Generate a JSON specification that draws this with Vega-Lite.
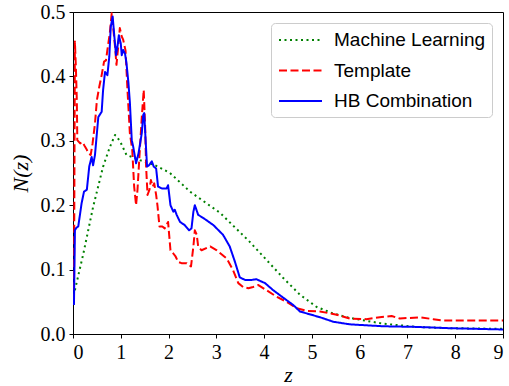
{
  "$schema": "https://vega.github.io/schema/vega-lite/v6.json",
  "width": 430,
  "height": 322,
  "autosize": {"type": "none"},
  "padding": {"left": 73, "top": 12, "right": 6, "bottom": 52},
  "background": "white",
  "config": {
    "view": {"stroke": "black", "strokeWidth": 1},
    "axis": {
      "grid": false,
      "domainColor": "black",
      "tickColor": "black",
      "tickSize": 4,
      "labelFont": "Liberation Serif",
      "labelFontSize": 20,
      "labelColor": "black",
      "labelPadding": 4,
      "titleFont": "Liberation Serif",
      "titleFontStyle": "italic",
      "titleFontWeight": "normal",
      "titleFontSize": 22,
      "titleColor": "black"
    },
    "legend": {
      "title": null,
      "orient": "top-right",
      "offset": 11,
      "symbolType": "M-2.15,0H2.15",
      "symbolSize": 400,
      "symbolOffset": 12.5,
      "symbolStrokeWidth": 2,
      "labelFont": "Liberation Sans",
      "labelFontSize": 19,
      "labelColor": "#000",
      "labelOffset": 22.5,
      "rowPadding": 9.5,
      "padding": 6,
      "strokeColor": "#cccccc",
      "fillColor": "rgba(255,255,255,0.8)",
      "cornerRadius": 4
    }
  },
  "data": {
    "values": [
      {"s": "Machine Learning", "z": 0.04, "n": 0.068},
      {"s": "Machine Learning", "z": 0.22, "n": 0.126},
      {"s": "Machine Learning", "z": 0.42, "n": 0.197},
      {"s": "Machine Learning", "z": 0.63, "n": 0.26},
      {"s": "Machine Learning", "z": 0.77, "n": 0.29},
      {"s": "Machine Learning", "z": 0.88, "n": 0.309},
      {"s": "Machine Learning", "z": 0.98, "n": 0.3},
      {"s": "Machine Learning", "z": 1.12, "n": 0.278},
      {"s": "Machine Learning", "z": 1.23, "n": 0.275},
      {"s": "Machine Learning", "z": 1.4, "n": 0.27},
      {"s": "Machine Learning", "z": 1.72, "n": 0.262},
      {"s": "Machine Learning", "z": 2.03, "n": 0.25},
      {"s": "Machine Learning", "z": 2.45, "n": 0.221},
      {"s": "Machine Learning", "z": 3.08, "n": 0.188},
      {"s": "Machine Learning", "z": 3.7, "n": 0.143},
      {"s": "Machine Learning", "z": 4.05, "n": 0.115},
      {"s": "Machine Learning", "z": 4.4, "n": 0.087},
      {"s": "Machine Learning", "z": 4.75, "n": 0.061},
      {"s": "Machine Learning", "z": 5.1, "n": 0.042},
      {"s": "Machine Learning", "z": 5.44, "n": 0.032},
      {"s": "Machine Learning", "z": 5.79, "n": 0.025},
      {"s": "Machine Learning", "z": 6.49, "n": 0.016},
      {"s": "Machine Learning", "z": 7.19, "n": 0.011},
      {"s": "Machine Learning", "z": 7.89, "n": 0.009},
      {"s": "Machine Learning", "z": 9.0, "n": 0.008},

      {"s": "Template", "z": 0.01, "n": 0.05},
      {"s": "Template", "z": 0.02, "n": 0.053},
      {"s": "Template", "z": 0.04, "n": 0.454},
      {"s": "Template", "z": 0.06, "n": 0.415},
      {"s": "Template", "z": 0.08, "n": 0.363},
      {"s": "Template", "z": 0.09, "n": 0.301},
      {"s": "Template", "z": 0.15, "n": 0.296},
      {"s": "Template", "z": 0.2, "n": 0.298},
      {"s": "Template", "z": 0.25, "n": 0.291},
      {"s": "Template", "z": 0.29, "n": 0.286},
      {"s": "Template", "z": 0.32, "n": 0.281},
      {"s": "Template", "z": 0.37, "n": 0.278},
      {"s": "Template", "z": 0.41, "n": 0.296},
      {"s": "Template", "z": 0.46, "n": 0.327},
      {"s": "Template", "z": 0.5, "n": 0.363},
      {"s": "Template", "z": 0.55, "n": 0.384},
      {"s": "Template", "z": 0.6, "n": 0.402},
      {"s": "Template", "z": 0.65, "n": 0.423},
      {"s": "Template", "z": 0.69, "n": 0.425},
      {"s": "Template", "z": 0.72, "n": 0.441},
      {"s": "Template", "z": 0.77, "n": 0.467},
      {"s": "Template", "z": 0.81, "n": 0.498},
      {"s": "Template", "z": 0.84, "n": 0.477},
      {"s": "Template", "z": 0.88, "n": 0.446},
      {"s": "Template", "z": 0.91, "n": 0.418},
      {"s": "Template", "z": 0.95, "n": 0.449},
      {"s": "Template", "z": 0.98, "n": 0.475},
      {"s": "Template", "z": 1.02, "n": 0.462},
      {"s": "Template", "z": 1.05, "n": 0.457},
      {"s": "Template", "z": 1.1, "n": 0.44},
      {"s": "Template", "z": 1.14, "n": 0.379},
      {"s": "Template", "z": 1.19, "n": 0.312},
      {"s": "Template", "z": 1.24, "n": 0.286},
      {"s": "Template", "z": 1.28, "n": 0.229},
      {"s": "Template", "z": 1.32, "n": 0.2},
      {"s": "Template", "z": 1.35, "n": 0.224},
      {"s": "Template", "z": 1.39, "n": 0.275},
      {"s": "Template", "z": 1.44, "n": 0.337},
      {"s": "Template", "z": 1.48, "n": 0.379},
      {"s": "Template", "z": 1.51, "n": 0.322},
      {"s": "Template", "z": 1.53, "n": 0.26},
      {"s": "Template", "z": 1.56, "n": 0.216},
      {"s": "Template", "z": 1.6, "n": 0.224},
      {"s": "Template", "z": 1.63, "n": 0.239},
      {"s": "Template", "z": 1.67, "n": 0.229},
      {"s": "Template", "z": 1.7, "n": 0.234},
      {"s": "Template", "z": 1.74, "n": 0.216},
      {"s": "Template", "z": 1.77, "n": 0.198},
      {"s": "Template", "z": 1.81, "n": 0.167},
      {"s": "Template", "z": 1.87, "n": 0.167},
      {"s": "Template", "z": 1.92, "n": 0.164},
      {"s": "Template", "z": 1.99, "n": 0.174},
      {"s": "Template", "z": 2.04, "n": 0.13},
      {"s": "Template", "z": 2.1, "n": 0.125},
      {"s": "Template", "z": 2.15, "n": 0.12},
      {"s": "Template", "z": 2.2, "n": 0.112},
      {"s": "Template", "z": 2.27, "n": 0.11},
      {"s": "Template", "z": 2.38, "n": 0.11},
      {"s": "Template", "z": 2.47, "n": 0.105},
      {"s": "Template", "z": 2.52, "n": 0.136},
      {"s": "Template", "z": 2.55, "n": 0.161},
      {"s": "Template", "z": 2.59, "n": 0.154},
      {"s": "Template", "z": 2.62, "n": 0.136},
      {"s": "Template", "z": 2.69, "n": 0.13},
      {"s": "Template", "z": 2.87, "n": 0.136},
      {"s": "Template", "z": 3.01, "n": 0.13},
      {"s": "Template", "z": 3.22, "n": 0.117},
      {"s": "Template", "z": 3.35, "n": 0.099},
      {"s": "Template", "z": 3.46, "n": 0.079},
      {"s": "Template", "z": 3.56, "n": 0.073},
      {"s": "Template", "z": 3.67, "n": 0.071},
      {"s": "Template", "z": 3.77, "n": 0.073},
      {"s": "Template", "z": 3.88, "n": 0.076},
      {"s": "Template", "z": 4.05, "n": 0.068},
      {"s": "Template", "z": 4.26, "n": 0.058},
      {"s": "Template", "z": 4.47, "n": 0.05},
      {"s": "Template", "z": 4.68, "n": 0.04},
      {"s": "Template", "z": 4.89, "n": 0.036},
      {"s": "Template", "z": 5.17, "n": 0.035},
      {"s": "Template", "z": 5.52, "n": 0.03},
      {"s": "Template", "z": 5.79, "n": 0.024},
      {"s": "Template", "z": 6.14, "n": 0.023},
      {"s": "Template", "z": 6.42, "n": 0.026},
      {"s": "Template", "z": 6.67, "n": 0.028},
      {"s": "Template", "z": 6.84, "n": 0.024},
      {"s": "Template", "z": 7.26, "n": 0.026},
      {"s": "Template", "z": 7.54, "n": 0.023},
      {"s": "Template", "z": 7.75, "n": 0.021},
      {"s": "Template", "z": 8.24, "n": 0.021},
      {"s": "Template", "z": 9.0, "n": 0.021},

      {"s": "HB Combination", "z": 0.02, "n": 0.045},
      {"s": "HB Combination", "z": 0.04, "n": 0.161},
      {"s": "HB Combination", "z": 0.07, "n": 0.165},
      {"s": "HB Combination", "z": 0.11, "n": 0.167},
      {"s": "HB Combination", "z": 0.18, "n": 0.203},
      {"s": "HB Combination", "z": 0.23, "n": 0.221},
      {"s": "HB Combination", "z": 0.29, "n": 0.224},
      {"s": "HB Combination", "z": 0.34, "n": 0.26},
      {"s": "HB Combination", "z": 0.39, "n": 0.275},
      {"s": "HB Combination", "z": 0.42, "n": 0.262},
      {"s": "HB Combination", "z": 0.46, "n": 0.278},
      {"s": "HB Combination", "z": 0.53, "n": 0.337},
      {"s": "HB Combination", "z": 0.6, "n": 0.345},
      {"s": "HB Combination", "z": 0.63, "n": 0.379},
      {"s": "HB Combination", "z": 0.67, "n": 0.407},
      {"s": "HB Combination", "z": 0.72, "n": 0.402},
      {"s": "HB Combination", "z": 0.76, "n": 0.431},
      {"s": "HB Combination", "z": 0.79, "n": 0.477},
      {"s": "HB Combination", "z": 0.83, "n": 0.493},
      {"s": "HB Combination", "z": 0.86, "n": 0.467},
      {"s": "HB Combination", "z": 0.9, "n": 0.433},
      {"s": "HB Combination", "z": 0.93, "n": 0.446},
      {"s": "HB Combination", "z": 0.96, "n": 0.464},
      {"s": "HB Combination", "z": 1.0, "n": 0.451},
      {"s": "HB Combination", "z": 1.02, "n": 0.433},
      {"s": "HB Combination", "z": 1.05, "n": 0.441},
      {"s": "HB Combination", "z": 1.09, "n": 0.435},
      {"s": "HB Combination", "z": 1.12, "n": 0.42},
      {"s": "HB Combination", "z": 1.16, "n": 0.39},
      {"s": "HB Combination", "z": 1.19, "n": 0.36},
      {"s": "HB Combination", "z": 1.23, "n": 0.301},
      {"s": "HB Combination", "z": 1.26, "n": 0.291},
      {"s": "HB Combination", "z": 1.32, "n": 0.265},
      {"s": "HB Combination", "z": 1.37, "n": 0.28},
      {"s": "HB Combination", "z": 1.44, "n": 0.312},
      {"s": "HB Combination", "z": 1.47, "n": 0.34},
      {"s": "HB Combination", "z": 1.49, "n": 0.343},
      {"s": "HB Combination", "z": 1.52, "n": 0.301},
      {"s": "HB Combination", "z": 1.55, "n": 0.26},
      {"s": "HB Combination", "z": 1.59, "n": 0.262},
      {"s": "HB Combination", "z": 1.65, "n": 0.268},
      {"s": "HB Combination", "z": 1.69, "n": 0.26},
      {"s": "HB Combination", "z": 1.74, "n": 0.257},
      {"s": "HB Combination", "z": 1.78, "n": 0.229},
      {"s": "HB Combination", "z": 1.86, "n": 0.226},
      {"s": "HB Combination", "z": 1.96, "n": 0.226},
      {"s": "HB Combination", "z": 1.99, "n": 0.231},
      {"s": "HB Combination", "z": 2.04, "n": 0.2},
      {"s": "HB Combination", "z": 2.1, "n": 0.19},
      {"s": "HB Combination", "z": 2.13, "n": 0.193},
      {"s": "HB Combination", "z": 2.17, "n": 0.185},
      {"s": "HB Combination", "z": 2.24, "n": 0.174},
      {"s": "HB Combination", "z": 2.34, "n": 0.169},
      {"s": "HB Combination", "z": 2.43, "n": 0.161},
      {"s": "HB Combination", "z": 2.48, "n": 0.164},
      {"s": "HB Combination", "z": 2.52, "n": 0.19},
      {"s": "HB Combination", "z": 2.55, "n": 0.2},
      {"s": "HB Combination", "z": 2.62, "n": 0.185},
      {"s": "HB Combination", "z": 2.73, "n": 0.18},
      {"s": "HB Combination", "z": 2.94, "n": 0.169},
      {"s": "HB Combination", "z": 3.14, "n": 0.154},
      {"s": "HB Combination", "z": 3.28, "n": 0.136},
      {"s": "HB Combination", "z": 3.39, "n": 0.112},
      {"s": "HB Combination", "z": 3.49, "n": 0.088},
      {"s": "HB Combination", "z": 3.6, "n": 0.084},
      {"s": "HB Combination", "z": 3.74, "n": 0.084},
      {"s": "HB Combination", "z": 3.84, "n": 0.085},
      {"s": "HB Combination", "z": 4.02, "n": 0.079},
      {"s": "HB Combination", "z": 4.19, "n": 0.068},
      {"s": "HB Combination", "z": 4.37, "n": 0.058},
      {"s": "HB Combination", "z": 4.61, "n": 0.045},
      {"s": "HB Combination", "z": 4.75, "n": 0.035},
      {"s": "HB Combination", "z": 4.89, "n": 0.032},
      {"s": "HB Combination", "z": 5.17, "n": 0.026},
      {"s": "HB Combination", "z": 5.45, "n": 0.019},
      {"s": "HB Combination", "z": 5.79, "n": 0.015},
      {"s": "HB Combination", "z": 6.49, "n": 0.012},
      {"s": "HB Combination", "z": 7.19, "n": 0.011},
      {"s": "HB Combination", "z": 7.89, "n": 0.009},
      {"s": "HB Combination", "z": 9.0, "n": 0.007}
    ]
  },
  "mark": {"type": "line", "strokeWidth": 2, "strokeJoin": "round", "clip": true},
  "encoding": {
    "x": {
      "field": "z",
      "type": "quantitative",
      "scale": {"domain": [0, 9], "nice": false},
      "axis": {"title": "z", "values": [0, 1, 2, 3, 4, 5, 6, 7, 8, 9], "format": "d", "titlePadding": 2}
    },
    "y": {
      "field": "n",
      "type": "quantitative",
      "scale": {"domain": [0, 0.5], "nice": false},
      "axis": {"title": "N(z)", "values": [0, 0.1, 0.2, 0.3, 0.4, 0.5], "format": ".1f", "titlePadding": 8}
    },
    "color": {
      "field": "s",
      "type": "nominal",
      "scale": {
        "domain": ["Machine Learning", "Template", "HB Combination"],
        "range": ["#008000", "#ff0000", "#0000ff"]
      },
      "legend": {"title": null}
    },
    "strokeDash": {
      "field": "s",
      "type": "nominal",
      "scale": {
        "domain": ["Machine Learning", "Template", "HB Combination"],
        "range": [[2, 3.5], [8, 3.5], [1, 0]]
      },
      "legend": {"title": null}
    }
  }
}
